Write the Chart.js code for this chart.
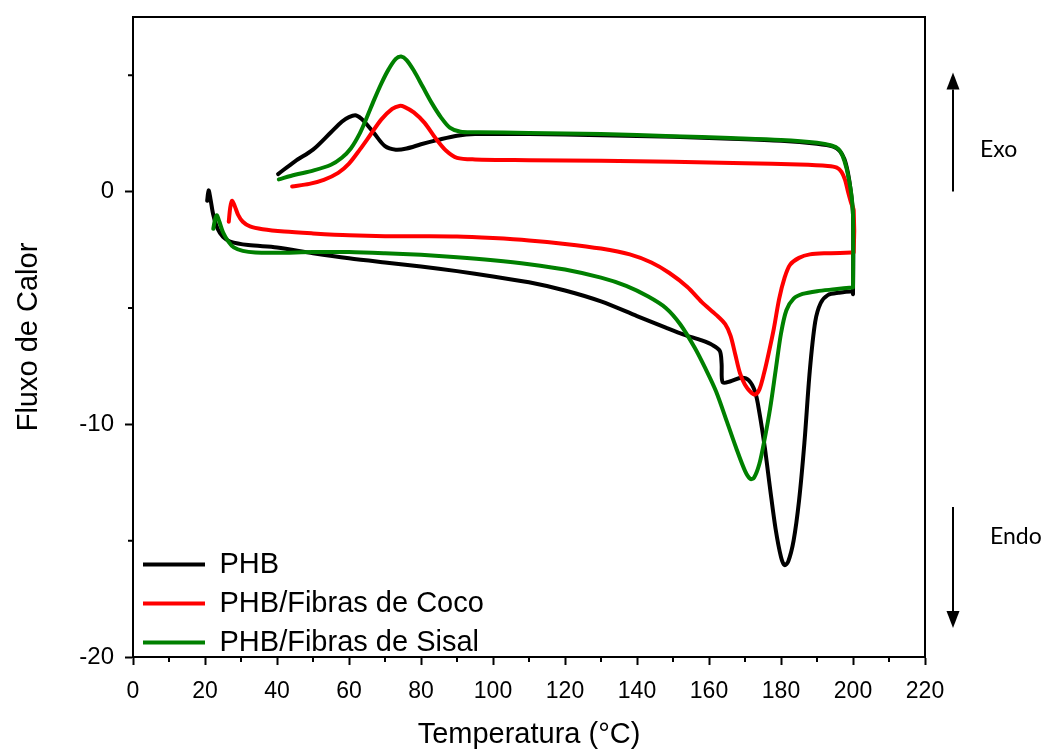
<!DOCTYPE html>
<html><head><meta charset="utf-8">
<script src="https://cdn.jsdelivr.net/npm/chart.js@4.4.0/dist/chart.umd.min.js"></script>
<style>html,body{margin:0;padding:0;background:#fff;overflow:hidden}canvas{display:block}</style>
</head><body>
<canvas id="c" width="1051" height="749"></canvas>
<script>
// ---- Data ----
const seriesNames = ['PHB', 'PHB/Fibras de Coco', 'PHB/Fibras de Sisal'];
const seriesColors = ['#000000', '#ff0000', '#008000'];

// PHB: heating (21 -> 200 °C), jump at 200, cooling (200 -> 40 °C)
const phbT = [20.6,21.0,21.5,22.3,23.5,25,27,32,40,50,60,70,80,90,100,110,120,130,140,148,153,158,161,163,163.5,163.8,166,169,171,172.8,174,175.5,177,178.5,180,181,182,183.5,185,186.5,188,189.5,191,193,196,199.8,
  200,200,199.4,198.6,197.6,196.3,194.5,190,180,166,150,130,110,95,90,85,80,76,73,70,67,64,62,60,58,55,50,45,40.3];
const phbV = [-0.4,0.05,-0.3,-1.0,-1.6,-1.95,-2.15,-2.3,-2.4,-2.65,-2.87,-3.05,-3.22,-3.42,-3.65,-3.9,-4.25,-4.72,-5.35,-5.85,-6.15,-6.4,-6.6,-6.85,-7.4,-8.2,-8.15,-8.0,-8.1,-8.6,-9.5,-11.0,-12.8,-14.5,-15.7,-16.05,-15.9,-15.0,-13.3,-10.8,-7.7,-5.6,-4.8,-4.45,-4.35,-4.3,
  -4.4,-1.0,0.0,0.8,1.4,1.75,1.93,2.05,2.18,2.27,2.35,2.42,2.47,2.47,2.4,2.23,2.03,1.85,1.8,1.95,2.5,3.05,3.27,3.2,3.0,2.55,1.8,1.3,0.75];

// PHB/Fibras de Coco
const cocoT = [26.6,27.0,27.5,28.2,29.2,30.5,32.5,36,42,50,60,70,80,90,100,110,120,130,138,144,149,154,158,162,164.5,166,167.3,168.6,170,171.5,172.8,174,175.3,176.5,178,179.5,181,182.5,185,188,193,199.6,
  200.2,200.2,199.5,198.6,197.8,196.8,195.5,193,185,170,150,130,110,95,90,87,84,81,78,75.5,74,72,69,66,63,60,57,53,49,44.2];
const cocoV = [-1.3,-0.7,-0.4,-0.6,-1.0,-1.3,-1.5,-1.62,-1.72,-1.8,-1.88,-1.92,-1.92,-1.93,-2.0,-2.1,-2.25,-2.45,-2.7,-3.05,-3.5,-4.1,-4.75,-5.3,-5.7,-6.2,-7.0,-7.8,-8.3,-8.6,-8.72,-8.5,-7.8,-7.0,-5.9,-4.6,-3.7,-3.15,-2.85,-2.7,-2.65,-2.62,
  -2.62,-0.8,-0.5,0.0,0.5,0.85,1.03,1.1,1.16,1.22,1.28,1.32,1.35,1.38,1.45,1.75,2.3,2.95,3.4,3.63,3.68,3.55,3.1,2.45,1.8,1.2,0.8,0.5,0.33,0.22];

// PHB/Fibras de Sisal
const sisalT = [22.3,22.8,23.3,24,25,26.5,28,30.5,34,40,50,60,70,80,90,100,110,120,130,137,143,148,152,156,159,162,165,167.5,170,171.5,172.5,174,175.5,177,178.5,180,181.5,183.5,186,190,195,199.8,
  200,200,199.6,199,198.2,197.2,196,194,190,180,166,150,130,110,96,91,88,85.5,83,80.5,78,76,74.5,73,71,69,67,65,63,60.5,58,55,50,45,40.5];
const sisalV = [-1.6,-1.2,-1.02,-1.3,-1.75,-2.15,-2.4,-2.55,-2.62,-2.63,-2.6,-2.6,-2.65,-2.72,-2.82,-2.95,-3.12,-3.35,-3.7,-4.05,-4.5,-5.0,-5.7,-6.7,-7.6,-8.6,-9.9,-11.0,-12.0,-12.35,-12.3,-11.7,-10.6,-9.3,-7.7,-6.1,-5.1,-4.6,-4.4,-4.28,-4.2,-4.12,
  -4.12,-1.0,-0.2,0.4,1.0,1.5,1.82,1.98,2.1,2.22,2.3,2.38,2.47,2.52,2.55,2.57,2.75,3.2,3.8,4.5,5.2,5.65,5.8,5.7,5.25,4.65,3.95,3.2,2.5,1.85,1.45,1.15,0.9,0.72,0.52];

const xMin = 0, xMax = 220, xMajor = 20, xMinor = 10;
const yMin = -20, yMax = 7.5, yMajor = 10, yMinor = 5;
const xTitle = 'Temperatura (°C)';
const yTitle = 'Fluxo de Calor';
const exoLabel = 'Exo', endoLabel = 'Endo';

// ---- Build datasets ----
function pts(T, V) { return T.map((t, i) => ({x: t, y: V[i]})); }
const allT = [phbT, cocoT, sisalT];
const allV = [phbV, cocoV, sisalV];
const drawOrder = [2, 1, 0]; // green on top
const datasets = seriesNames.map((n, i) => ({
  label: n,
  data: pts(allT[i], allV[i]),
  borderColor: seriesColors[i],
  backgroundColor: seriesColors[i],
  borderWidth: 4,
  pointRadius: 0,
  showLine: true,
  tension: 0.3,
  order: drawOrder[i],
  borderJoinStyle: 'round',
  borderCapStyle: 'round'
}));

const FONT = "'Liberation Sans', Arial, sans-serif";

const framePlugin = {
  id: 'frame',
  afterLayout(chart) {
    // push the in-plot legend to the lower-left corner
    if (chart.legend) { chart.legend.top += 27; chart.legend.bottom += 27; }
  },
  afterDatasetsDraw(chart) {
    const {ctx, chartArea: a, scales} = chart;
    ctx.save();
    ctx.strokeStyle = '#000';
    ctx.lineWidth = 2;
    ctx.strokeRect(a.left, a.top, a.right - a.left, a.bottom - a.top);
    // minor ticks
    ctx.beginPath();
    for (let v = xMin; v <= xMax; v += xMinor) {
      if (v % xMajor === 0) continue;
      const px = scales.x.getPixelForValue(v);
      ctx.moveTo(px, a.bottom); ctx.lineTo(px, a.bottom + 5);
    }
    for (let v = yMin; v <= yMax; v += yMinor) {
      if (v % yMajor === 0) continue;
      const py = scales.y.getPixelForValue(v);
      ctx.moveTo(a.left, py); ctx.lineTo(a.left - 5, py);
    }
    ctx.stroke();
    ctx.restore();
  },
  afterDraw(chart) {
    const {ctx, chartArea: a, scales} = chart;
    const y = scales.y;
    const ax = a.right + 28;
    ctx.save();
    ctx.strokeStyle = '#000'; ctx.fillStyle = '#000'; ctx.lineWidth = 2;
    function arrow(y0, y1) {
      const dir = y1 < y0 ? -1 : 1;
      const headL = 17, headW = 6.5;
      ctx.beginPath(); ctx.moveTo(ax, y0); ctx.lineTo(ax, y1 - dir * headL); ctx.stroke();
      ctx.beginPath(); ctx.moveTo(ax, y1); ctx.lineTo(ax - headW, y1 - dir * headL); ctx.lineTo(ax + headW, y1 - dir * headL); ctx.closePath(); ctx.fill();
    }
    arrow(y.getPixelForValue(0), y.getPixelForValue(5.12));
    arrow(y.getPixelForValue(-13.55), y.getPixelForValue(-18.75));
    ctx.font = "23px Lato, 'Open Sans', sans-serif";
    ctx.textBaseline = 'middle'; ctx.textAlign = 'left';
    ctx.fillText(exoLabel, a.right + 55, y.getPixelForValue(1.8));
    ctx.fillText(endoLabel, a.right + 65, y.getPixelForValue(-14.84));
    ctx.restore();
  }
};

new Chart(document.getElementById('c'), {
  type: 'scatter',
  data: {datasets},
  options: {
    responsive: false,
    devicePixelRatio: 1,
    animation: false,
    layout: {padding: {top: 17, right: 126, left: 0, bottom: 0}},
    plugins: {
      tooltip: {enabled: false},
      legend: {
        position: 'chartArea',
        align: 'end',
        labels: {
          font: {family: FONT, size: 29},
          color: '#000',
          boxWidth: 62,
          boxHeight: 4,
          padding: 10,
          sort: (a, b) => a.datasetIndex - b.datasetIndex,
          generateLabels(chart) {
            return Chart.defaults.plugins.legend.labels.generateLabels(chart).map(l => {
              const c = seriesColors[l.datasetIndex];
              return Object.assign(l, {fillStyle: c, strokeStyle: c, lineWidth: 0});
            });
          }
        }
      }
    },
    scales: {
      x: {
        type: 'linear', min: xMin, max: xMax,
        afterFit(s) { s.height = 92; },
        border: {display: true, color: '#000', width: 2},
        grid: {
          drawOnChartArea: false, drawTicks: true, tickLength: 8, tickWidth: 2,
          tickColor: (ctx) => (ctx.tick && ctx.tick.value % xMajor === 0) ? '#000' : 'rgba(0,0,0,0)'
        },
        ticks: {
          stepSize: xMinor, autoSkip: false, maxRotation: 0, padding: 13,
          color: '#000', font: {family: FONT, size: 23},
          callback: (v) => (v % xMajor === 0 ? String(v) : '')
        },
        title: {display: true, text: xTitle, color: '#000', font: {family: FONT, size: 29, lineHeight: 1}, padding: {top: 0, bottom: 0}}
      },
      y: {
        type: 'linear', min: yMin, max: yMax,
        afterFit(s) { s.width = 133; s.paddingTop = 0; s.paddingBottom = 0; },
        border: {display: true, color: '#000', width: 2},
        grid: {
          drawOnChartArea: false, drawTicks: true, tickLength: 8, tickWidth: 2,
          tickColor: (ctx) => (ctx.tick && ctx.tick.value % yMajor === 0) ? '#000' : 'rgba(0,0,0,0)'
        },
        ticks: {
          stepSize: yMinor, autoSkip: false, includeBounds: false, padding: 11,
          color: '#000', font: {family: FONT, size: 24},
          callback: (v) => (v % yMajor === 0 ? String(v) : '')
        },
        title: {display: true, text: yTitle, color: '#000', font: {family: FONT, size: 29, lineHeight: 1}, padding: {top: 14, bottom: 0}}
      }
    }
  },
  plugins: [framePlugin]
});
</script>
</body></html>
